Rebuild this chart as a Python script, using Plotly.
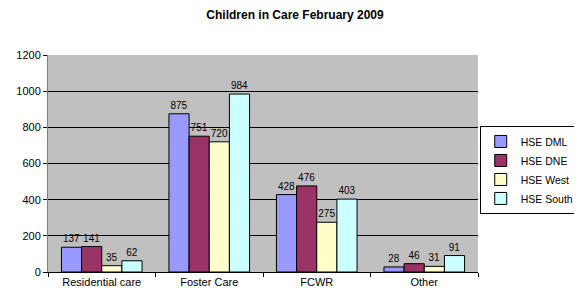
import plotly.graph_objects as go

categories = ["Residential care", "Foster Care", "FCWR", "Other"]
series_names = ["HSE DML", "HSE DNE", "HSE West", "HSE South"]
hse_dml = [137, 875, 428, 28]
hse_dne = [141, 751, 476, 46]
hse_west = [35, 720, 275, 31]
hse_south = [62, 984, 403, 91]
colors = ["#9999FF", "#993366", "#FFFFCC", "#CCFFFF"]
y_ticks = [0, 200, 400, 600, 800, 1000, 1200]

fig = go.Figure()
for name, vals, col in zip(series_names, [hse_dml, hse_dne, hse_west, hse_south], colors):
    fig.add_trace(go.Bar(
        x=categories, y=vals, name=name,
        marker=dict(color=col, line=dict(color="black", width=1)),
        text=[str(v) for v in vals], textposition="outside",
        textfont=dict(size=10, color="black", family="Liberation Sans, Arial"),
        cliponaxis=False,
    ))

# page body has an 8px default margin, so the figure is sized/offset to compensate
fig.update_layout(
    width=574, height=290,
    margin=dict(l=40, r=104, t=47, b=26, autoexpand=False),
    paper_bgcolor="white", plot_bgcolor="#C0C0C0",
    font=dict(family="Liberation Sans, Arial", size=11, color="black"),
    title=dict(text="<b>Children in Care February 2009</b>", x=0.5, xanchor="center",
               y=0.976, yanchor="middle", font=dict(size=12)),
    barmode="group", bargap=0.25, bargroupgap=0,
    legend=dict(x=1.004, y=0.673, xanchor="left", yanchor="top",
                bordercolor="black", borderwidth=1, bgcolor="white",
                font=dict(size=10.5), itemwidth=30, tracegroupgap=0),
    showlegend=True,
)
fig.update_xaxes(showline=True, linecolor="black", linewidth=1, ticks="outside",
                 tickson="boundaries", ticklen=4, tickcolor="black",
                 tickfont=dict(size=11), mirror=False, automargin=False)
fig.update_yaxes(range=[0, 1200], tickvals=y_ticks, showgrid=True, gridcolor="black",
                 gridwidth=1, showline=True, linecolor="#808080", linewidth=1,
                 ticks="outside", ticklen=4, tickcolor="black", zeroline=False,
                 tickfont=dict(size=11), automargin=False)

fig.write_html("out.html")
